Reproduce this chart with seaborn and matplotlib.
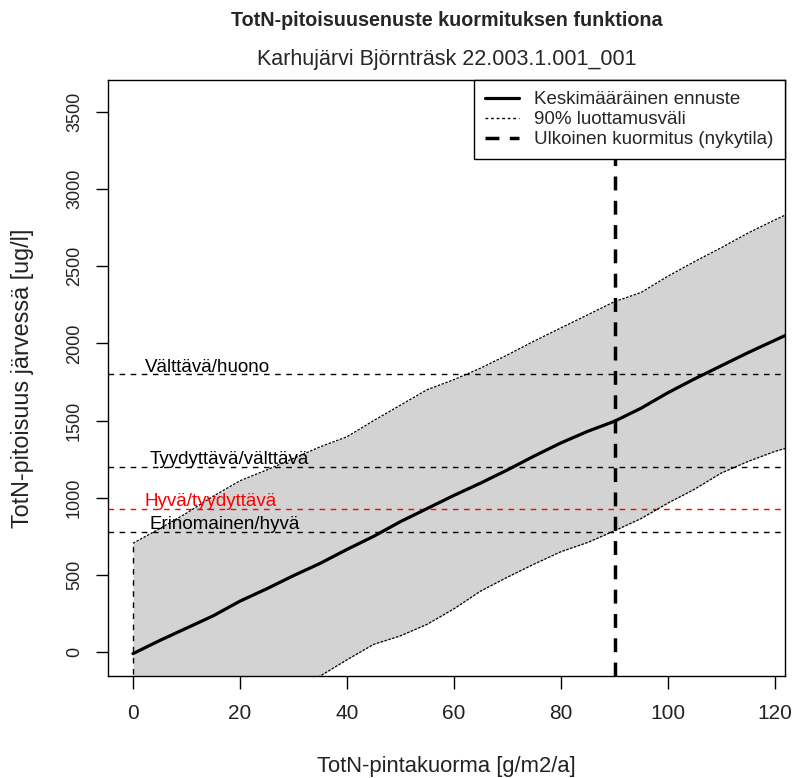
import numpy as np
import pandas as pd
import matplotlib
matplotlib.use("Agg")
import matplotlib.pyplot as plt
from matplotlib.lines import Line2D
import seaborn as sns

# Load (g/m2/a) and predicted lake TotN concentration (ug/l)
load = [0, 5, 10, 15, 20, 25, 30, 35, 40, 45, 50, 55, 60, 65, 70, 75, 80,
        85, 90, 95, 100, 105, 110, 115, 120, 125]
mean_pred = [-10, 75, 155, 235, 330, 410, 495, 575, 665, 750, 845, 930, 1015,
             1095, 1180, 1270, 1355, 1430, 1495, 1580, 1680, 1770, 1855, 1940,
             2020, 2100]
upper_90 = [705, 800, 900, 1010, 1110, 1180, 1255, 1330, 1395, 1500, 1600,
            1700, 1765, 1840, 1925, 2015, 2100, 2185, 2270, 2330, 2435, 2530,
            2620, 2715, 2800, 2880]
lower_90 = [-720, -640, -560, -480, -400, -320, -240, -155, -50, 50, 105, 180,
            280, 395, 485, 570, 650, 710, 785, 865, 965, 1055, 1160, 1235,
            1300, 1350]

current_load = 90.1

class_limits = [1800, 1200, 930, 780]
class_names = ["Välttävä/huono", "Tyydyttävä/välttävä", "Hyvä/tyydyttävä",
               "Erinomainen/hyvä"]
class_colors = ["#000000", "#000000", "#FF0000", "#000000"]
label_x = [2.2, 3.1, 2.2, 3.1]

x_ticks = [0, 20, 40, 60, 80, 100, 120]
y_ticks = [0, 500, 1000, 1500, 2000, 2500, 3000, 3500]

df = pd.DataFrame({"load": load, "mean": mean_pred,
                   "upper": upper_90, "lower": lower_90})

sns.set_theme(style="ticks")
plt.rcParams["font.family"] = ["Liberation Sans", "DejaVu Sans"]
plt.rcParams["axes.linewidth"] = 1.0

fig = plt.figure(figsize=(7.92, 7.78), dpi=100)
ax = fig.add_axes([0.1364, 0.1311, 0.991 - 0.1364, 0.8972 - 0.1311])

# confidence band
ax.fill_between(df["load"], df["lower"], df["upper"], color="#D3D3D3",
                linewidth=0, zorder=1)
band_style = dict(color="black", linewidth=0.9, dashes=(2.0, 1.2), zorder=3)
sns.lineplot(data=df, x="load", y="upper", ax=ax, legend=False, **band_style)
sns.lineplot(data=df, x="load", y="lower", ax=ax, legend=False, **band_style)
ax.plot([df["load"].iloc[0]] * 2, [df["lower"].iloc[0], df["upper"].iloc[0]],
        color="black", linewidth=1.0, dashes=(4, 4), zorder=3)

# class boundaries
for val, name, col, lx in zip(class_limits, class_names, class_colors, label_x):
    ax.axhline(val, color=col, linewidth=1.0, dashes=(4, 4), zorder=2)
    ax.text(lx, val + 45, name, color=col, ha="left", va="center",
            fontsize=13.5, zorder=4)

# mean prediction
sns.lineplot(data=df, x="load", y="mean", ax=ax, color="black",
             linewidth=2.3, legend=False, zorder=5)

# current external load
ax.axvline(current_load, color="black", linewidth=2.5, dashes=(4, 3), zorder=6)

ax.set_xlim(-4.67, 121.9)
ax.set_ylim(-155, 3707)
ax.set_xticks(x_ticks)
ax.set_yticks(y_ticks)
ax.set_xticklabels([str(t) for t in x_ticks], fontsize=15)
ax.set_yticklabels([str(t) for t in y_ticks], fontsize=13, rotation=90,
                   va="center")
ax.tick_params(axis="both", direction="out", length=9, width=1.0,
               color="black", labelcolor="#222222")
ax.tick_params(axis="x", pad=11)
ax.tick_params(axis="y", pad=9)
for s in ax.spines.values():
    s.set_visible(True)
    s.set_color("black")

ax.set_xlabel("TotN-pintakuorma [g/m2/a]", fontsize=15.8, color="#222222",
              labelpad=24)
ax.set_ylabel("TotN-pitoisuus järvessä [ug/l]", fontsize=16.8, color="#222222",
              labelpad=23)

fig.text(0.5637, 1 - 20 / 778, "TotN-pitoisuusenuste kuormituksen funktiona",
         ha="center", va="center", fontsize=14.2, fontweight="bold")
fig.text(0.5637, 1 - 60 / 778, "Karhujärvi Björnträsk 22.003.1.001_001",
         ha="center", va="center", fontsize=15.5)

handles = [Line2D([], [], color="black", linewidth=2.3),
           Line2D([], [], color="black", linewidth=1.0, dashes=(2, 2)),
           Line2D([], [], color="black", linewidth=2.5, dashes=(4, 3))]
leg = ax.legend(handles, ["Keskimääräinen ennuste", "90% luottamusväli",
                          "Ulkoinen kuormitus (nykytila)"],
                loc="upper right", borderaxespad=0, fancybox=False,
                framealpha=1, edgecolor="black", fontsize=13.5,
                handlelength=1.8, handletextpad=0.8, labelspacing=0.15,
                borderpad=0.6)
leg.get_frame().set_linewidth(1.0)
leg.set_zorder(10)

fig.savefig("out.png", dpi=100)
